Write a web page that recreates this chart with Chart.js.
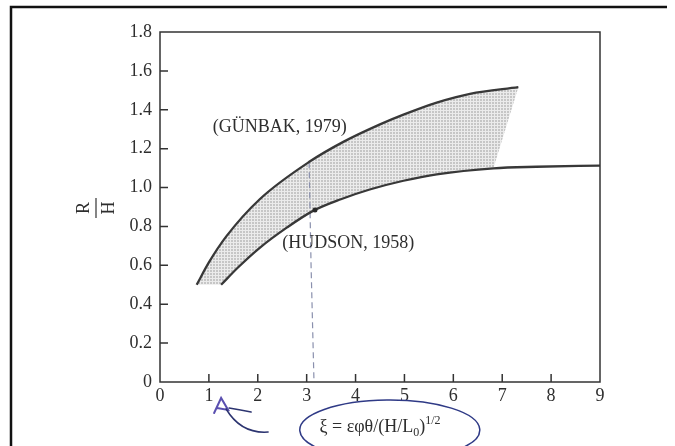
<!DOCTYPE html>
<html>
<head>
<meta charset="utf-8">
<script src="https://cdn.jsdelivr.net/npm/chart.js@4.4.1/dist/chart.umd.min.js"></script>
<style>
    body { margin: 0; background: #ffffff; }
    #wrap { width: 675px; height: 446px; }
</style>
</head>
<body>
<div id="wrap"><canvas id="chart" width="675" height="446"></canvas></div>
<script>
// 数据
const gunbakX = [0.75, 1.0, 1.36, 2.04, 3.07, 3.75, 4.5, 4.98, 5.66, 6.34, 7.33];
const gunbakY = [0.50, 0.615, 0.75, 0.94, 1.135, 1.235, 1.325, 1.375, 1.437, 1.482, 1.516];
const hudsonX = [1.25, 1.6, 2.04, 2.6, 3.13, 3.7, 4.29, 4.98, 5.66, 6.82, 7.7, 9.0];
const hudsonY = [0.50, 0.59, 0.69, 0.795, 0.88, 0.94, 0.99, 1.035, 1.068, 1.099, 1.107, 1.113];
// 阴影区右边界
const bandEdgeX = [7.33, 6.82];
const bandEdgeY = [1.516, 1.099];
// 手画虚线和圆点
const dashX = [3.05, 3.09, 3.15];
const dashY = [1.13, 0.6, 0.0];
const markX = [3.17];
const markY = [0.885];
const xTicks = [0, 1, 2, 3, 4, 5, 6, 7, 8, 9];
const yTicks = [0, 0.2, 0.4, 0.6, 0.8, 1.0, 1.2, 1.4, 1.6, 1.8];
const gunbakLabel = "(GÜNBAK, 1979)";
const hudsonLabel = "(HUDSON, 1958)";

const serif = "'Liberation Serif', 'DejaVu Serif', serif";
const ink = "#2e2e2e";

function toPoints(xs, ys) {
    return xs.map((x, i) => ({ x: x, y: ys[i] }));
}

// 阴影多边形：上曲线 -> 右边界 -> 下曲线（反向）
function bandPolygon() {
    let pts = toPoints(gunbakX, gunbakY);
    pts.push({ x: bandEdgeX[1], y: bandEdgeY[1] });
    for (let i = hudsonX.length - 1; i >= 0; i--) {
        if (hudsonX[i] < bandEdgeX[1]) pts.push({ x: hudsonX[i], y: hudsonY[i] });
    }
    pts.push({ x: gunbakX[0], y: gunbakY[0] });
    return pts;
}

// 网点图案
function dotPattern() {
    const c = document.createElement("canvas");
    c.width = 3;
    c.height = 3;
    const g = c.getContext("2d");
    g.fillStyle = "#ebebeb";
    g.fillRect(0, 0, 3, 3);
    g.fillStyle = "#c6c6c6";
    g.fillRect(0, 0, 2, 2);
    return g.createPattern(c, "repeat");
}

const framePlugin = {
    id: "frame",
    beforeDraw(chart) {
        const ctx = chart.ctx;
        ctx.save();
        ctx.strokeStyle = "#111";
        ctx.lineWidth = 2.5;
        ctx.beginPath();
        ctx.moveTo(11, 446);
        ctx.lineTo(11, 7);
        ctx.lineTo(667, 7);
        ctx.stroke();
        ctx.restore();
    },
    afterDatasetsDraw(chart) {
        const ctx = chart.ctx;
        const a = chart.chartArea;
        const xs = chart.scales.x;
        const ys = chart.scales.y;
        ctx.save();
        ctx.strokeStyle = "#333";
        ctx.lineWidth = 1.5;
        ctx.strokeRect(a.left, a.top, a.right - a.left, a.bottom - a.top);
        // 向内的刻度
        ctx.beginPath();
        xs.ticks.forEach(t => {
            const px = xs.getPixelForValue(t.value);
            if (px > a.left + 1 && px < a.right - 1) {
                ctx.moveTo(px, a.bottom);
                ctx.lineTo(px, a.bottom - 8);
            }
        });
        ys.ticks.forEach(t => {
            const py = ys.getPixelForValue(t.value);
            if (py > a.top + 1 && py < a.bottom - 1) {
                ctx.moveTo(a.left, py);
                ctx.lineTo(a.left + 8, py);
            }
        });
        ctx.stroke();

        // 曲线标注
        ctx.fillStyle = ink;
        ctx.font = "18px " + serif;
        ctx.textBaseline = "middle";
        ctx.textAlign = "center";
        ctx.fillText(gunbakLabel, xs.getPixelForValue(2.45), ys.getPixelForValue(1.31));
        ctx.textAlign = "left";
        ctx.fillText(hudsonLabel, xs.getPixelForValue(2.5), ys.getPixelForValue(0.715));

        // y轴标题 R/H
        ctx.save();
        ctx.translate(96, ys.getPixelForValue(0.9) + 1);
        ctx.rotate(-Math.PI / 2);
        ctx.textAlign = "center";
        ctx.fillText("R", 0, -12);
        ctx.fillText("H", 0, 13);
        ctx.beginPath();
        ctx.lineWidth = 1.2;
        ctx.moveTo(-10, 0);
        ctx.lineTo(10, 0);
        ctx.stroke();
        ctx.restore();

        // x轴标题 ξ = εφθ/(H/L0)^1/2
        const base = a.bottom + 50;
        const parts = [
            ["ξ = εφθ/(H/L", 18, 0],
            ["0", 12, 4],
            [")", 18, 0],
            ["1/2", 12, -8]
        ];
        let total = 0;
        parts.forEach(p => {
            ctx.font = p[1] + "px " + serif;
            total += ctx.measureText(p[0]).width;
        });
        let cx = (a.left + a.right) / 2 - total / 2;
        ctx.textAlign = "left";
        ctx.textBaseline = "alphabetic";
        parts.forEach(p => {
            ctx.font = p[1] + "px " + serif;
            ctx.fillText(p[0], cx, base + p[2]);
            cx += ctx.measureText(p[0]).width;
        });

        // 手画的箭头和椭圆
        const tipX = xs.getPixelForValue(1.25);
        ctx.lineCap = "round";
        ctx.strokeStyle = "#5b50b0";
        ctx.lineWidth = 2;
        ctx.beginPath();
        ctx.moveTo(tipX - 7, a.bottom + 31);
        ctx.lineTo(tipX, a.bottom + 16);
        ctx.lineTo(tipX + 7, a.bottom + 28);
        ctx.lineTo(tipX - 4, a.bottom + 26);
        ctx.stroke();
        ctx.strokeStyle = "#2c3470";
        ctx.lineWidth = 1.5;
        ctx.beginPath();
        ctx.moveTo(tipX + 8, a.bottom + 26);
        ctx.quadraticCurveTo(tipX + 20, a.bottom + 28, tipX + 30, a.bottom + 30);
        ctx.moveTo(tipX + 5, a.bottom + 27);
        ctx.quadraticCurveTo(tipX + 20, a.bottom + 52, tipX + 47, a.bottom + 50);
        ctx.stroke();
        ctx.strokeStyle = "#2f3a86";
        ctx.beginPath();
        ctx.ellipse(xs.getPixelForValue(4.7), a.bottom + 48, 90, 30, 0, 0.74 * Math.PI, 2.3 * Math.PI);
        ctx.stroke();
        ctx.restore();
    }
};

new Chart(document.getElementById("chart"), {
    type: "scatter",
    data: {
        datasets: [
            {
                label: "band",
                data: bandPolygon(),
                showLine: true,
                fill: "shape",
                backgroundColor: dotPattern(),
                borderWidth: 0,
                pointRadius: 0,
                order: 10
            }, {
                label: "Günbak",
                data: toPoints(gunbakX, gunbakY),
                showLine: true,
                borderColor: "#383838",
                borderWidth: 2.3,
                pointRadius: 0,
                cubicInterpolationMode: "monotone",
                order: 1
            }, {
                label: "Hudson",
                data: toPoints(hudsonX, hudsonY),
                showLine: true,
                borderColor: "#383838",
                borderWidth: 2.3,
                pointRadius: 0,
                cubicInterpolationMode: "monotone",
                order: 1
            }, {
                label: "dash",
                data: toPoints(dashX, dashY),
                showLine: true,
                borderColor: "#8a90ad",
                borderWidth: 1.2,
                borderDash: [6, 4],
                pointRadius: 0,
                order: 2
            }, {
                label: "mark",
                data: toPoints(markX, markY),
                pointRadius: 2.5,
                pointBackgroundColor: "#2a2a2a",
                pointBorderWidth: 0,
                order: 0
            }
        ]
    },
    options: {
        responsive: false,
        animation: false,
        layout: { padding: { left: 0, top: 32, right: 75, bottom: 0 } },
        plugins: {
            legend: { display: false },
            tooltip: { enabled: false }
        },
        scales: {
            x: {
                type: "linear",
                min: 0,
                max: 9,
                afterFit: scale => { scale.height = 64; },
                afterBuildTicks: scale => { scale.ticks = xTicks.map(v => ({ value: v })); },
                grid: { display: false, drawTicks: false },
                border: { display: false },
                ticks: {
                    padding: 3,
                    color: ink,
                    font: { family: serif, size: 18 },
                    callback: v => String(v)
                }
            },
            y: {
                type: "linear",
                min: 0,
                max: 1.8,
                afterFit: scale => { scale.width = 160; },
                afterBuildTicks: scale => { scale.ticks = yTicks.map(v => ({ value: v })); },
                grid: { display: false, drawTicks: false },
                border: { display: false },
                ticks: {
                    padding: 8,
                    color: ink,
                    font: { family: serif, size: 18 },
                    callback: v => v === 0 ? "0" : v.toFixed(1)
                }
            }
        }
    },
    plugins: [framePlugin]
});
</script>
</body>
</html>
